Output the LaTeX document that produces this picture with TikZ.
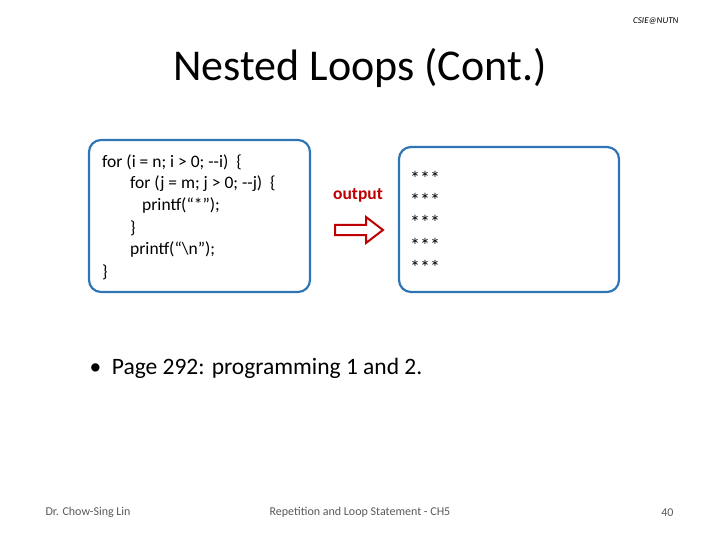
\documentclass[tikz,border=0pt]{standalone}
\usepackage{fontspec}
\setmainfont{Carlito}
\begin{document}
\begin{tikzpicture}[x=1pt,y=-1pt,
  panel/.style={line width=2.2pt, rounded corners=12pt},
  code/.style={anchor=west, font=\fontsize{17.5}{20}\selectfont, inner sep=0pt}]
\definecolor{panelc}{RGB}{46,117,182}
\definecolor{redc}{RGB}{192,0,0}
\useasboundingbox (0,0) rectangle (720,540);
\node[anchor=east,font=\fontsize{9}{10}\selectfont\itshape] (hdr) at (682,21) {CSIE@NUTN};
\node[font=\fontsize{44}{50}\selectfont] (title) at (360,68) {Nested Loops (Cont.)};
\draw[panel,draw=panelc] (89,140) rectangle (310,292);
\draw[panel,draw=panelc] (399,147) rectangle (619,292);
\node[code] (l1) at (102,162) {for (i = n; i > 0; {-}{-}i)\ \ \{};
\node[code] (l2) at (130,184) {for (j = m; j > 0; {-}{-}j)\ \ \{};
\node[code] (l3) at (142,206) {printf(“*”);};
\node[code] (l4) at (130,228) {\}};
\node[code] (l5) at (130,250) {printf(“\textbackslash n”);};
\node[code] (l6) at (102,272) {\}};
\node[font=\fontsize{17.5}{20}\selectfont\bfseries, text=redc] (out) at (358,195) {output};
\draw[draw=redc, line width=2pt, line join=miter] (335,225) -- (366,225) -- (366,217) -- (383,230) -- (366,243) -- (366,235) -- (335,235) -- cycle;
\foreach \y [count=\i] in {173,195,217,240,262}
  \node[code, font=\fontsize{20}{22}\selectfont] (s\i) at (410,\y+5) {***};
\node[anchor=west,font=\fontsize{23.5}{28}\selectfont] (bul) at (86,368) {\textbullet\ \ Page 292: programming 1 and 2.};
\node[anchor=west,font=\fontsize{12}{14}\selectfont, text=black!65] (ft1) at (42,512) {Dr. Chow-Sing Lin};
\node[font=\fontsize{12}{14}\selectfont, text=black!65] (ft2) at (360,512) {Repetition and Loop Statement - CH5};
\node[anchor=east,font=\fontsize{12}{14}\selectfont, text=black!65] (ft3) at (677,513) {40};
\end{tikzpicture}
\end{document}
